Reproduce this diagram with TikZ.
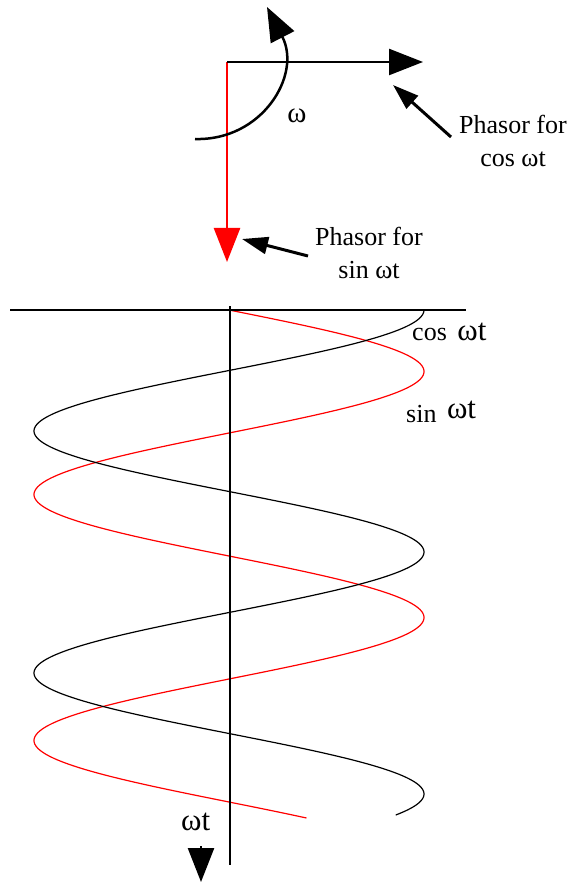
\documentclass[tikz,border=0pt]{standalone}
\usepackage{fontspec}
\setmainfont{Liberation Serif}
\usetikzlibrary{arrows.meta}
\tikzset{
    phasor/.style={line width=2.5pt, -{Triangle[length=34pt,width=26pt]}},
    pointer/.style={line width=3pt, -{Triangle[length=26pt,width=17pt]}},
    axisline/.style={line width=2pt},
    wave/.style={line width=1.2pt},
    txt/.style={inner sep=0pt, font=\fontsize{26}{33}\selectfont, align=center}
}

\begin{document}
\begin{tikzpicture}[x=1pt, y=-1pt]
    \useasboundingbox (0,0) rectangle (569,882);
    \coordinate (O) at (227,62);
    \coordinate (cosTip) at (423,62);
    \coordinate (sinTip) at (227,262);
    \coordinate (rotStart) at (195,139);
    \coordinate (rotTip) at (267,7);
    \draw[phasor, red] (O) -- (sinTip);
    \draw[phasor] (O) -- (cosTip);
    \draw[phasor] (rotStart) .. controls (262,141) and (302,75) .. (rotTip);
    \node[txt, font=\fontsize{29}{32}\selectfont] (omegaLbl) at (297,116) {ω};

    \node[txt] (cosPtrLbl) at (513,141) {Phasor for\\cos ωt};
    \node[txt] (sinPtrLbl) at (369,253) {Phasor for\\sin ωt};
    \coordinate (cosPtrFrom) at (451,137);
    \coordinate (cosPtrTo) at (393,85);
    \coordinate (sinPtrFrom) at (308,256);
    \coordinate (sinPtrTo) at (242,239);
    \draw[pointer] (cosPtrFrom) -- (cosPtrTo);
    \draw[pointer] (sinPtrFrom) -- (sinPtrTo);

    \draw[wave, red] plot[domain=310:818, samples=400, variable=\t] ({229+195*sin((\t-310)/246*360)}, \t);
    \draw[wave] plot[domain=310:815, samples=400, variable=\t] ({229+195*cos((\t-310)/242*360)}, \t);

    \coordinate (topL) at (10,310);
    \coordinate (topR) at (466,310);
    \coordinate (axTop) at (230,306);
    \coordinate (axBot) at (230,865);
    \draw[axisline] (topL) -- (topR);
    \draw[axisline] (axTop) -- (axBot);

    \node[txt, anchor=base west] (cosLbl) at (412,340) {cos\hspace{4pt} {\fontsize{31}{31}\selectfont ωt}};
    \node[txt, anchor=base west] (sinLbl) at (406,422) {sin\hspace{4pt} \raisebox{4pt}{\fontsize{31}{31}\selectfont ωt}};
    \node[txt, anchor=base west, font=\fontsize{31}{31}\selectfont] (wtLbl) at (181,830) {ωt};
    \coordinate (wtBase) at (201,846);
    \coordinate (wtTip) at (201,882);
    \draw[phasor] (wtBase) -- (wtTip);
\end{tikzpicture}
\end{document}
